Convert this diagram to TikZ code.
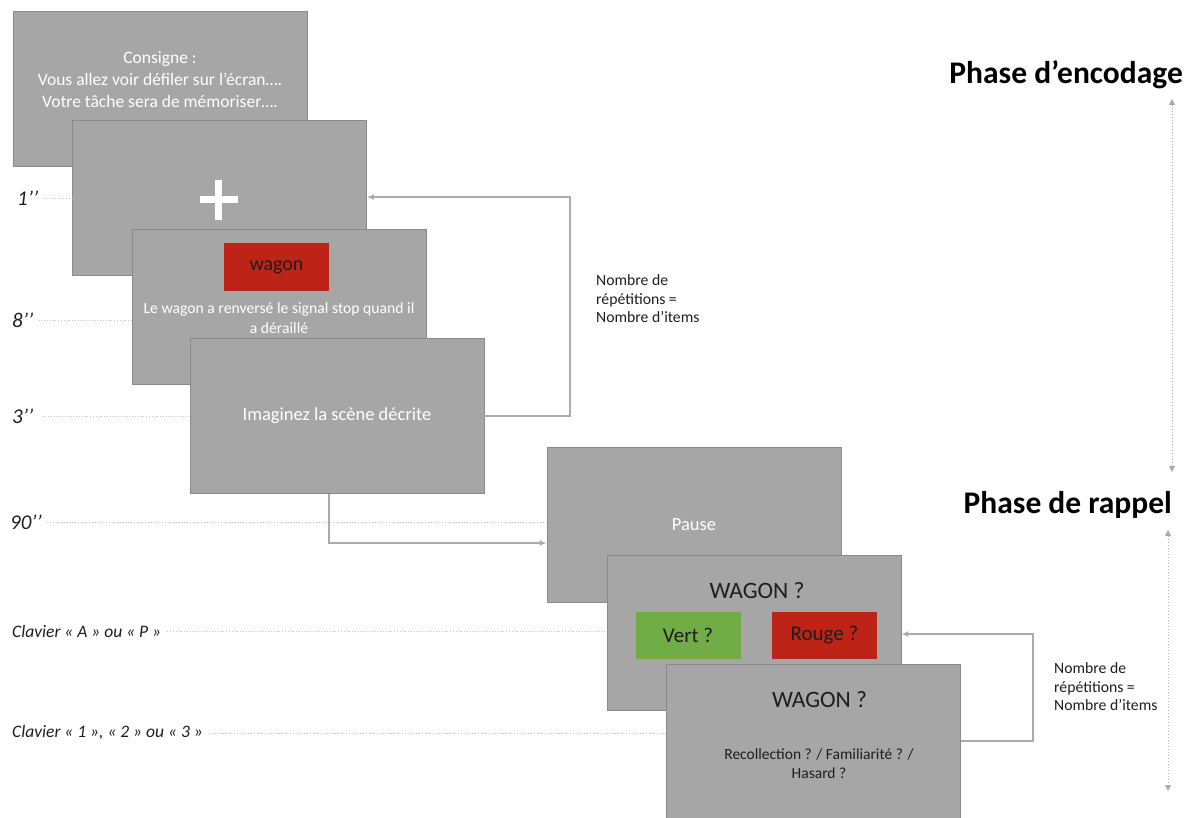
\documentclass[tikz,border=0pt]{standalone}
\usepackage{fontspec}
\setmainfont{Carlito}
\usetikzlibrary{positioning,calc,arrows.meta}
\definecolor{screengray}{HTML}{A6A6A6}
\definecolor{screenedge}{HTML}{8A8A8A}
\definecolor{wagonred}{HTML}{BE2317}
\definecolor{vertgreen}{HTML}{70AD47}
\definecolor{linegray}{HTML}{ABABAB}
\definecolor{dotgray}{HTML}{C4C4C4}
\definecolor{ink}{HTML}{1E1E1E}

\begin{document}
\begin{tikzpicture}[x=1pt,y=-1pt,node distance=1cm,on grid,
  screen/.style={draw=screenedge,fill=screengray,line width=0.8pt,minimum width=294pt,minimum height=155pt,inner sep=0pt},
  wtxt/.style={text=white,align=center,inner sep=0pt},
  btxt/.style={text=ink,align=center,inner sep=0pt},
  answer/.style={minimum width=105pt,minimum height=47pt,inner sep=0pt,text=ink,font=\fontsize{21}{24}\selectfont},
  tag/.style={text=ink,anchor=west,inner sep=0pt,font=\fontsize{17.5}{20}\selectfont\itshape},
  dots/.style={dotted,draw=dotgray,line width=0.8pt},
  back/.style={draw=linegray,line width=2pt,-{Latex[length=7pt,width=6pt]}},
  phase/.style={text=black,anchor=east,inner sep=0pt,font=\fontsize{31.5}{34}\selectfont\bfseries},
  span/.style={dotted,draw=linegray,line width=1pt,{Triangle[length=6pt,width=6pt]}-{Triangle[length=6pt,width=6pt]}},
  note/.style={text=ink,anchor=west,align=left,inner sep=0pt,font=\fontsize{15.7}{18.5}\selectfont}]
\useasboundingbox (0,0) rectangle (1190,818);

% encodage
\node[screen](s_0) at (160,88.5) {};
\node[wtxt,font=\fontsize{17.5}{22}\selectfont](s_0t)[above=9pt of s_0]{Consigne :\\Vous allez voir défiler sur l’écran….\\Votre tâche sera de mémoriser….};
\node[screen](s_1)[below right=109.5pt and 59.5pt of s_0]{};
\draw[white,line width=7pt] ([xshift=-20pt,yshift=-2pt]s_1.center) -- ([xshift=18pt,yshift=-2pt]s_1.center);
\draw[white,line width=7pt] ([xshift=-1pt,yshift=-22pt]s_1.center) -- ([xshift=-1pt,yshift=18pt]s_1.center);
\node[screen](s_2)[below right=109pt and 59.5pt of s_1]{};
\node[fill=wagonred,answer,font=\fontsize{20}{24}\selectfont](s_2w)[above left=40pt and 2.5pt of s_2]{wagon};
\node[wtxt,font=\fontsize{15.7}{20}\selectfont](s_2t)[below=11pt of s_2]{Le wagon a renversé le signal stop quand il\\a déraillé};
\node[screen](s_3)[below right=109pt and 58pt of s_2]{};
\node[wtxt,font=\fontsize{18.5}{22}\selectfont](s_3t) at (s_3) {Imaginez la scène décrite};

% rappel
\node[screen](s_4) at (694,525) {};
\node[wtxt,font=\fontsize{18.5}{22}\selectfont](s_4t) at (s_4) {Pause};
\node[screen](s_5)[below right=108pt and 60pt of s_4]{};
\node[btxt,font=\fontsize{23.5}{26}\selectfont](s_5t)[above right=42pt and 3pt of s_5]{WAGON ?};
\node[fill=vertgreen,answer](s_5v)[below left=2.5pt and 66pt of s_5]{Vert ?};
\node[fill=wagonred,answer](s_5r)[below right=2.5pt and 70.5pt of s_5]{Rouge ?};
\node[screen,minimum height=154pt](s_6)[below right=108pt and 59.5pt of s_5]{};
\node[btxt,font=\fontsize{23.5}{26}\selectfont](s_6t)[above right=41pt and 6pt of s_6]{WAGON ?};
\node[btxt,font=\fontsize{15.5}{19.5}\selectfont](s_6q)[below right=22.5pt and 5.5pt of s_6]{Recollection ? / Familiarité ? /\\Hasard ?};

% durées
\node[tag,font=\fontsize{21}{24}\selectfont\itshape](d_0) at (17,198) {1’’};
\node[tag,font=\fontsize{21}{24}\selectfont\itshape](d_1) at (12,320) {8’’};
\node[tag,font=\fontsize{21}{24}\selectfont\itshape](d_2) at (12,416) {3’’};
\node[tag,font=\fontsize{21}{24}\selectfont\itshape](d_3) at (10,522) {90’’};
\node[tag](d_4) at (12,631) {Clavier « A » ou « P »};
\node[tag](d_5) at (12,733) {Clavier « 1 », « 2 » ou « 3 »};
\draw[dots] ([xshift=5pt]d_0.east) -- (d_0 -| s_1.west);
\draw[dots] ([xshift=5pt]d_1.east) -- (d_1 -| s_2.west);
\draw[dots] ([xshift=9pt]d_2.east) -- (d_2 -| s_3.west);
\draw[dots] ([xshift=5pt]d_3.east) -- (d_3 -| s_4.west);
\draw[dots] ([xshift=6pt]d_4.east) -- (d_4 -| s_5.west);
\draw[dots] ([xshift=6pt]d_5.east) -- (d_5 -| s_6.west);

% boucles
\draw[back] (s_3.east) -- ++(86,0) |- ([yshift=1pt]s_1.east);
\node[note](n_0) at (596,299) {Nombre de\\répétitions =\\Nombre d’items};
\draw[back] ([xshift=-8pt]s_3.south) |- ([yshift=-18pt]s_4.west);
\draw[back] (s_6.east) -- ++(72,0) |- ([yshift=-1pt]s_5.east);
\node[note](n_1) at (1054,687) {Nombre de\\répétitions =\\Nombre d’items};

% phases
\node[phase](ph_0) at (1183,75) {Phase d’encodage};
\node[phase](ph_1) at (1172,505) {Phase de rappel};
\coordinate (v_0) at (1172,99);
\coordinate (v_1) at (1172,472);
\coordinate (v_2) at (1168,530);
\coordinate (v_3) at (1168,791);
\draw[span] (v_0) -- (v_1);
\draw[span] (v_2) -- (v_3);
\end{tikzpicture}
\end{document}
